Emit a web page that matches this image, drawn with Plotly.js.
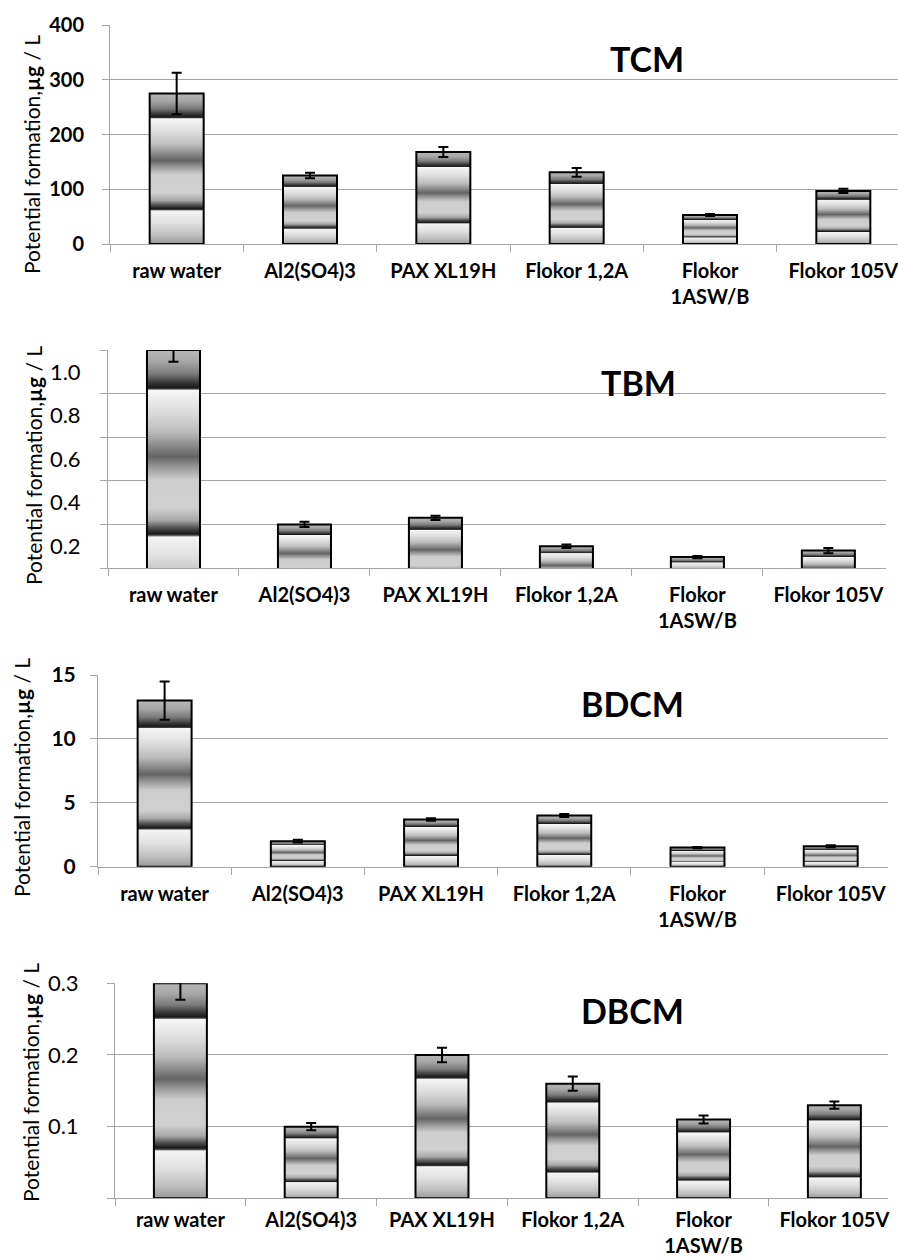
<!DOCTYPE html>
<html>
<head>
<meta charset="utf-8">
<script src="https://cdn.plot.ly/plotly-3.0.1.min.js"></script>
<style>
html,body{margin:0;padding:0;background:#fff;}
#chart{width:898px;height:1260px;}
</style>
</head>
<body>
<svg width="0" height="0" style="position:absolute">
<defs>
<linearGradient id="barGrad" x1="0" y1="0" x2="0" y2="1">
<stop offset="0" stop-color="#b8b8b8"/>
<stop offset="0.05" stop-color="#a6a6a6"/>
<stop offset="0.10" stop-color="#7a7a7a"/>
<stop offset="0.135" stop-color="#3a3a3a"/>
<stop offset="0.155" stop-color="#1a1a1a"/>
<stop offset="0.162" stop-color="#3a3a3a"/>
<stop offset="0.168" stop-color="#f6f6f6"/>
<stop offset="0.26" stop-color="#dcdcdc"/>
<stop offset="0.34" stop-color="#bdbdbd"/>
<stop offset="0.40" stop-color="#8a8a8a"/>
<stop offset="0.445" stop-color="#646464"/>
<stop offset="0.49" stop-color="#9a9a9a"/>
<stop offset="0.54" stop-color="#cdcdcd"/>
<stop offset="0.66" stop-color="#d0d0d0"/>
<stop offset="0.71" stop-color="#a8a8a8"/>
<stop offset="0.74" stop-color="#555555"/>
<stop offset="0.765" stop-color="#1a1a1a"/>
<stop offset="0.772" stop-color="#3a3a3a"/>
<stop offset="0.78" stop-color="#f4f4f4"/>
<stop offset="0.86" stop-color="#e0e0e0"/>
<stop offset="0.94" stop-color="#c0c0c0"/>
<stop offset="1" stop-color="#999999"/>
</linearGradient>
</defs>
</svg>
<div id="chart"></div>
<script>
// ---- data ----
const categories = ['raw water', 'Al2(SO4)3', 'PAX XL19H', 'Flokor 1,2A', 'Flokor<br>1ASW/B', 'Flokor 105V'];

const tcmValues = [275, 125, 168, 131, 53, 97];
const tcmErrors = [38, 5, 9, 8, 2, 4];

const tbmValues = [1.1, 0.3, 0.33, 0.2, 0.15, 0.18];
const tbmErrors = [0.054, 0.012, 0.01, 0.008, 0.005, 0.012];

const bdcmValues = [13.0, 2.0, 3.7, 4.0, 1.5, 1.6];
const bdcmErrors = [1.5, 0.1, 0.1, 0.12, 0.05, 0.08];

const dbcmValues = [0.3, 0.1, 0.2, 0.16, 0.11, 0.13];
const dbcmErrors = [0.023, 0.005, 0.01, 0.01, 0.0055, 0.005];

const panelTitles = ['TCM', 'TBM', 'BDCM', 'DBCM'];
const yTitle = 'Potential formation,<b>µg</b> / L';

const tcmTicks = [0, 100, 200, 300, 400];
const tbmLabelTicks = [0.2, 0.4, 0.6, 0.8, 1.0];
const tbmLabelText = ['0.2', '0.4', '0.6', '0.8', '1.0'];
const tbmGridTicks = [0.1, 0.3, 0.5, 0.7, 0.9, 1.1];
const bdcmTicks = [0, 5, 10, 15];
const dbcmTicks = [0, 0.1, 0.2, 0.3];
const dbcmTickText = ['', '0.1', '0.2', '0.3'];

// ---- layout helpers ----
const W = 898, H = 1260;
const FONT = 'Lato, "Open Sans", sans-serif';
const GRID = '#a6a6a6';
const px = v => v / W;
const py = v => 1 - v / H;

function barTrace(vals, errs, xa, ya) {
  return {
    type: 'bar', x: categories, y: vals, xaxis: xa, yaxis: ya,
    marker: {color: '#cccccc', line: {color: '#000', width: 2}},
    error_y: {type: 'data', array: errs, visible: true, color: '#000', thickness: 2, width: 5},
    hoverinfo: 'skip', showlegend: false
  };
}

const data = [
  barTrace(tcmValues, tcmErrors, 'x', 'y'),
  barTrace(tbmValues, tbmErrors, 'x2', 'y2'),
  barTrace(bdcmValues, bdcmErrors, 'x3', 'y3'),
  barTrace(dbcmValues, dbcmErrors, 'x4', 'y4')
];

function xAxis(l, r, anchor, rangeEnd, standoff) {
  return {
    domain: [px(l), px(r)], anchor: anchor, type: 'category',
    range: [-0.5, rangeEnd], fixedrange: true,
    showline: true, linecolor: GRID, linewidth: 1,
    ticks: 'outside', tickson: 'boundaries', ticklen: 7, tickcolor: GRID, tickwidth: 1,
    showgrid: false, zeroline: false, ticklabelstandoff: standoff,
    tickfont: {family: FONT, size: 20, color: '#000', weight: 'bold'}
  };
}
function yAxis(top, bottom, anchor, range, extra) {
  return Object.assign({
    domain: [py(bottom), py(top)], anchor: anchor, range: range, fixedrange: true,
    showline: true, linecolor: GRID, linewidth: 1,
    ticks: 'outside', ticklen: 7, tickcolor: GRID, tickwidth: 1,
    showgrid: true, gridcolor: GRID, gridwidth: 1, zeroline: false,
    tickmode: 'array'
  }, extra);
}

const layout = {
  width: W, height: H,
  margin: {l: 0, r: 0, t: 0, b: 0},
  paper_bgcolor: '#fff', plot_bgcolor: '#fff',
  bargap: 0.595,
  font: {family: FONT, color: '#000'},
  xaxis: xAxis(110, 898, 'y', 5.41, 9),
  yaxis: yAxis(25, 244, 'x', [0, 400], {
    tickvals: tcmTicks, ticklabelstandoff: 14,
    tickfont: {family: FONT, size: 20, color: '#000', weight: 'bold'}
  }),
  xaxis2: xAxis(108, 886, 'y2', 5.44, 9),
  yaxis2: yAxis(350, 568, 'x2', [0.1, 1.1], {
    tickvals: tbmLabelTicks, ticktext: tbmLabelText,
    showgrid: false, ticks: '', ticklabelstandoff: 22,
    minor: {tickmode: 'array', tickvals: tbmGridTicks, showgrid: true, gridcolor: GRID, gridwidth: 1,
            ticks: 'outside', ticklen: 7, tickcolor: GRID, tickwidth: 1},
    tickfont: {family: FONT, size: 22, color: '#000'}
  }),
  xaxis3: xAxis(98, 888, 'y3', 5.43, 9),
  yaxis3: yAxis(675, 866.7, 'x3', [0, 15], {
    tickvals: bdcmTicks, ticklabelstandoff: 10,
    tickfont: {family: FONT, size: 21, color: '#000', weight: 'bold'}
  }),
  xaxis4: xAxis(115, 888, 'y4', 5.41, 4),
  yaxis4: yAxis(983.3, 1198.3, 'x4', [0, 0.3], {
    tickvals: dbcmTicks, ticktext: dbcmTickText, ticklabelstandoff: 24,
    tickfont: {family: FONT, size: 22, color: '#000'}
  }),
  annotations: [
    {text: '<b>' + panelTitles[0] + '</b>', x: px(647), y: py(58)},
    {text: '<b>' + panelTitles[1] + '</b>', x: px(638), y: py(382)},
    {text: '<b>' + panelTitles[2] + '</b>', x: px(632), y: py(703)},
    {text: '<b>' + panelTitles[3] + '</b>', x: px(632), y: py(1010)}
  ].map(a => Object.assign({xref: 'paper', yref: 'paper', xanchor: 'center', yanchor: 'middle',
      showarrow: false, font: {family: FONT, size: 34, color: '#000'}}, a)).concat(
    [[31, 155], [33, 466], [21, 778], [30, 1083]].map(p => ({
      text: yTitle, x: px(p[0]), y: py(p[1]), xref: 'paper', yref: 'paper',
      xanchor: 'center', yanchor: 'middle', textangle: -90, showarrow: false,
      font: {family: FONT, size: 21, color: '#000'}
    }))
  )
};

function applyGradient() {
  document.querySelectorAll('#chart .barlayer .point path').forEach(p => {
    p.style.fill = 'url(#barGrad)';
  });
}

Plotly.newPlot('chart', data, layout, {displayModeBar: false, staticPlot: true}).then(gd => {
  applyGradient();
  gd.on('plotly_afterplot', applyGradient);
});
</script>
</body>
</html>
